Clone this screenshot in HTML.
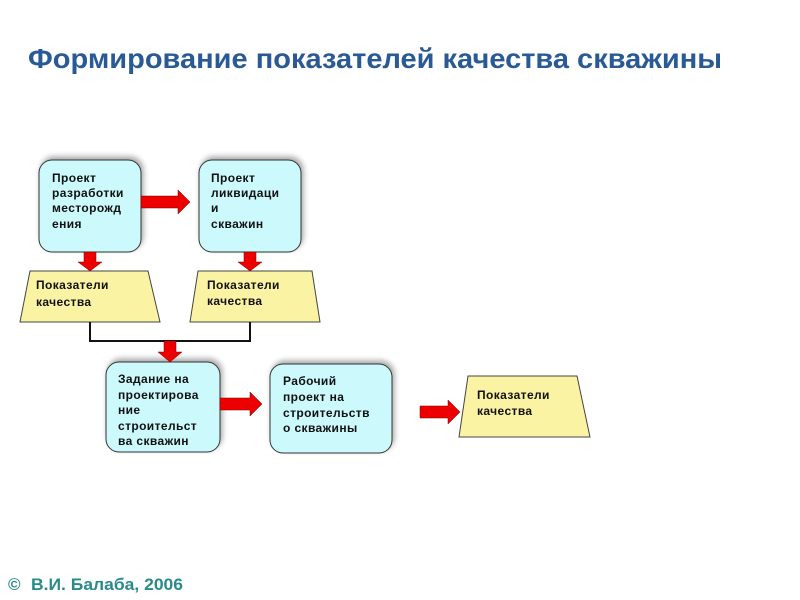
<!DOCTYPE html>
<html><head><meta charset="utf-8"><style>
html,body{margin:0;padding:0;background:#fff;}
svg{display:block;}
text{font-family:"Liberation Sans",sans-serif;font-weight:bold;}
.t{font-size:12px;fill:#111;letter-spacing:0.4px;}
</style></head><body>
<svg width="800" height="600" viewBox="0 0 800 600" xmlns="http://www.w3.org/2000/svg">
<defs>
<filter id="sh" x="-20%" y="-20%" width="140%" height="140%"><feGaussianBlur in="SourceAlpha" stdDeviation="3"/><feOffset dx="2" dy="-3"/><feComponentTransfer><feFuncA type="linear" slope="0.35"/></feComponentTransfer><feMerge><feMergeNode/><feMergeNode in="SourceGraphic"/></feMerge></filter>
</defs>
<text x="28" y="68" font-size="28" fill="#2a5a95" textLength="694" lengthAdjust="spacingAndGlyphs">Формирование показателей качества скважины</text>

<g fill="#ccf9fb" stroke="#333" stroke-width="1" filter="url(#sh)">
<rect x="39" y="160" width="102" height="92" rx="13"/>
<rect x="199" y="160" width="102" height="92" rx="13"/>
<rect x="106" y="362" width="114" height="90" rx="13"/>
<rect x="270" y="364" width="122" height="89" rx="13"/>
</g>
<g fill="#fbf3a4" stroke="#444" stroke-width="1">
<polygon points="30,271 148,271 160,322 20,322"/>
<polygon points="198,271 312,271 320,322 190,322"/>
<polygon points="468,376 577,376 590,437 459,437"/>
</g>
<polyline points="90,322 90,341 250,341 250,322" fill="none" stroke="#111" stroke-width="2"/>

<g fill="#ee0000" stroke="#700" stroke-width="0.5">
<polygon points="141,196 178,196 178,190 190,202 178,214 178,208 141,208"/>
<polygon points="84,252 96,252 96,262 102,262 90,271 78,262 84,262"/>
<polygon points="244,252 256,252 256,262 262,262 250,271 238,262 244,262"/>
<polygon points="164,341 176,341 176,352 182,352 170,362 158,352 164,352"/>
<polygon points="220,398 250,398 250,392 262,404 250,416 250,410 220,410"/>
<polygon points="420,406 448,406 448,400 460,412 448,424 448,418 420,418"/>
</g>

<g>
<text class="t" x="52" y="182">Проект</text>
<text class="t" x="52" y="197">разработки</text>
<text class="t" x="52" y="212">месторожд</text>
<text class="t" x="52" y="228">ения</text>
<text class="t" x="211" y="182">Проект</text>
<text class="t" x="211" y="197">ликвидаци</text>
<text class="t" x="211" y="212">и</text>
<text class="t" x="211" y="228">скважин</text>
<text class="t" x="36" y="289">Показатели</text>
<text class="t" x="36" y="306">качества</text>
<text class="t" x="207" y="289">Показатели</text>
<text class="t" x="207" y="305">качества</text>
<text class="t" x="118" y="383">Задание на</text>
<text class="t" x="118" y="399">проектирова</text>
<text class="t" x="118" y="414">ние</text>
<text class="t" x="118" y="430">строительст</text>
<text class="t" x="118" y="445">ва скважин</text>
<text class="t" x="283" y="385">Рабочий</text>
<text class="t" x="283" y="401">проект на</text>
<text class="t" x="283" y="417">строительств</text>
<text class="t" x="283" y="432">о скважины</text>
<text class="t" x="477" y="399">Показатели</text>
<text class="t" x="477" y="415">качества</text>
</g>

<text x="8" y="590" font-size="17" fill="#2a8a8a">©</text>
<text x="31" y="590" font-size="17" fill="#2a8a8a" textLength="152" lengthAdjust="spacingAndGlyphs">В.И. Балаба, 2006</text>
</svg>
</body></html>
